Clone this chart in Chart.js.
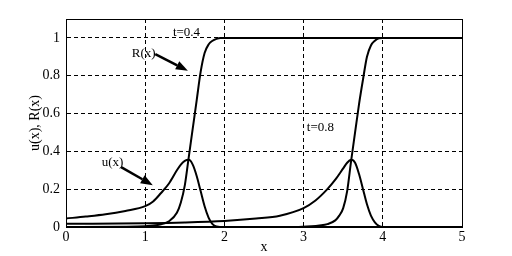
<!DOCTYPE html>
<html>
<head>
<meta charset="utf-8">
<script src="https://cdn.jsdelivr.net/npm/chart.js@4/dist/chart.umd.min.js"></script>
<style>
  html, body { margin: 0; padding: 0; background: #fff; }
</style>
</head>
<body>
<canvas id="chart" width="512" height="256"></canvas>
<script>
// t = 0.4
const u1X = [0, 0.25, 0.5, 0.75, 1.0, 1.1, 1.2, 1.3, 1.4, 1.45, 1.5, 1.55, 1.6, 1.65, 1.7, 1.75, 1.8, 1.85, 1.9, 2.0, 5];
const u1Y = [0.045, 0.055, 0.067, 0.085, 0.11, 0.135, 0.18, 0.23, 0.3, 0.33, 0.35, 0.355, 0.33, 0.27, 0.19, 0.11, 0.05, 0.015, 0.003, 0, 0];
const r1X = [0, 0.9, 1.1, 1.2, 1.3, 1.4, 1.45, 1.5, 1.55, 1.6, 1.65, 1.7, 1.75, 1.8, 1.85, 1.9, 1.95, 2.0, 5];
const r1Y = [0, 0.002, 0.008, 0.015, 0.03, 0.075, 0.13, 0.22, 0.37, 0.52, 0.67, 0.82, 0.92, 0.965, 0.985, 0.995, 1, 1, 1];

// t = 0.8
const u2X = [0, 1, 1.5, 2, 2.4, 2.7, 3, 3.15, 3.3, 3.4, 3.5, 3.55, 3.6, 3.65, 3.7, 3.75, 3.8, 3.85, 3.9, 3.95, 4.0, 5];
const u2Y = [0.017, 0.02, 0.024, 0.032, 0.045, 0.06, 0.1, 0.14, 0.2, 0.25, 0.31, 0.34, 0.355, 0.34, 0.28, 0.2, 0.12, 0.06, 0.025, 0.006, 0, 0];
const r2X = [0, 2.9, 3.1, 3.2, 3.3, 3.4, 3.45, 3.5, 3.55, 3.6, 3.65, 3.7, 3.75, 3.8, 3.85, 3.9, 3.95, 4.0, 5];
const r2Y = [0, 0, 0.004, 0.008, 0.015, 0.035, 0.06, 0.1, 0.19, 0.35, 0.5, 0.65, 0.78, 0.9, 0.96, 0.985, 0.998, 1, 1];

const xTicks = [0, 1, 2, 3, 4, 5];
const yTicks = [0, 0.2, 0.4, 0.6, 0.8, 1];

// text notes and arrows, in data units
const noteText = ['t=0.4', 'R(x)', 'u(x)', 't=0.8'];
const noteX = [1.35, 0.83, 0.45, 3.04];
const noteY = [1.028, 0.918, 0.342, 0.528];
const arrowFrom = [[1.127, 0.914], [0.696, 0.317]];
const arrowTo = [[1.539, 0.826], [1.096, 0.221]];

const FONT = { family: "'Liberation Serif', 'DejaVu Serif', serif", size: 14 };

function pairs(xs, ys) {
    return xs.map((x, i) => ({ x: x, y: ys[i] }));
}

function curve(xs, ys) {
    return {
        data: pairs(xs, ys),
        borderColor: '#000',
        borderWidth: 2,
        pointRadius: 0,
        fill: false,
        cubicInterpolationMode: 'monotone'
    };
}

const notesPlugin = {
    id: 'notes',
    afterDatasetsDraw(chart) {
        const ctx = chart.ctx;
        const sx = chart.scales.x, sy = chart.scales.y;
        const a = chart.chartArea;

        // frame
        ctx.save();
        ctx.strokeStyle = '#000';
        ctx.lineWidth = 1;
        ctx.strokeRect(Math.round(a.left) + 0.5, Math.round(a.top) + 0.5,
            Math.round(a.right - a.left), Math.round(a.bottom - a.top));

        ctx.fillStyle = '#000';
        ctx.font = '13px ' + FONT.family;
        ctx.textAlign = 'left';
        ctx.textBaseline = 'middle';
        noteText.forEach((t, i) => {
            ctx.fillText(t, sx.getPixelForValue(noteX[i]), sy.getPixelForValue(noteY[i]));
        });

        arrowFrom.forEach((f, i) => {
            const x1 = sx.getPixelForValue(f[0]), y1 = sy.getPixelForValue(f[1]);
            const x2 = sx.getPixelForValue(arrowTo[i][0]), y2 = sy.getPixelForValue(arrowTo[i][1]);
            const ang = Math.atan2(y2 - y1, x2 - x1);
            const len = 12, half = 4.5;
            const bx = x2 - len * Math.cos(ang), by = y2 - len * Math.sin(ang);
            ctx.lineWidth = 2.5;
            ctx.beginPath();
            ctx.moveTo(x1, y1);
            ctx.lineTo(bx, by);
            ctx.stroke();
            ctx.beginPath();
            ctx.moveTo(x2, y2);
            ctx.lineTo(bx + half * Math.sin(ang), by - half * Math.cos(ang));
            ctx.lineTo(bx - half * Math.sin(ang), by + half * Math.cos(ang));
            ctx.closePath();
            ctx.fill();
        });
        ctx.restore();
    }
};

new Chart(document.getElementById('chart').getContext('2d'), {
    type: 'line',
    data: {
        datasets: [curve(u1X, u1Y), curve(r1X, r1Y), curve(u2X, u2Y), curve(r2X, r2Y)]
    },
    options: {
        responsive: false,
        animation: false,
        devicePixelRatio: 1,
        layout: { padding: { left: 0, right: 50, top: 19, bottom: 0 } },
        plugins: {
            legend: { display: false },
            tooltip: { enabled: false }
        },
        scales: {
            x: {
                type: 'linear',
                min: 0,
                max: 5,
                afterBuildTicks: (s) => { s.ticks = xTicks.map(v => ({ value: v })); },
                afterFit: (s) => { s.height = 29; },
                ticks: { color: '#000', font: FONT, padding: 2, maxRotation: 0, callback: (v) => String(v) },
                grid: { color: '#000', lineWidth: 1, drawTicks: false },
                border: { display: true, color: '#000', dash: [4, 3] },
                title: { display: true, text: 'x', color: '#000', font: FONT, padding: { top: 0, bottom: 0 } }
            },
            y: {
                type: 'linear',
                min: 0,
                max: 1.1,
                afterBuildTicks: (s) => { s.ticks = yTicks.map(v => ({ value: v })); },
                afterFit: (s) => { s.width = 66; },
                ticks: { color: '#000', font: FONT, padding: 6, callback: (v) => String(v) },
                grid: { color: '#000', lineWidth: 1, drawTicks: false },
                border: { display: true, color: '#000', dash: [4, 3] },
                title: { display: true, text: 'u(x), R(x)', color: '#000', font: FONT, padding: { top: 27, bottom: 0 } }
            }
        }
    },
    plugins: [notesPlugin]
});
</script>
</body>
</html>
